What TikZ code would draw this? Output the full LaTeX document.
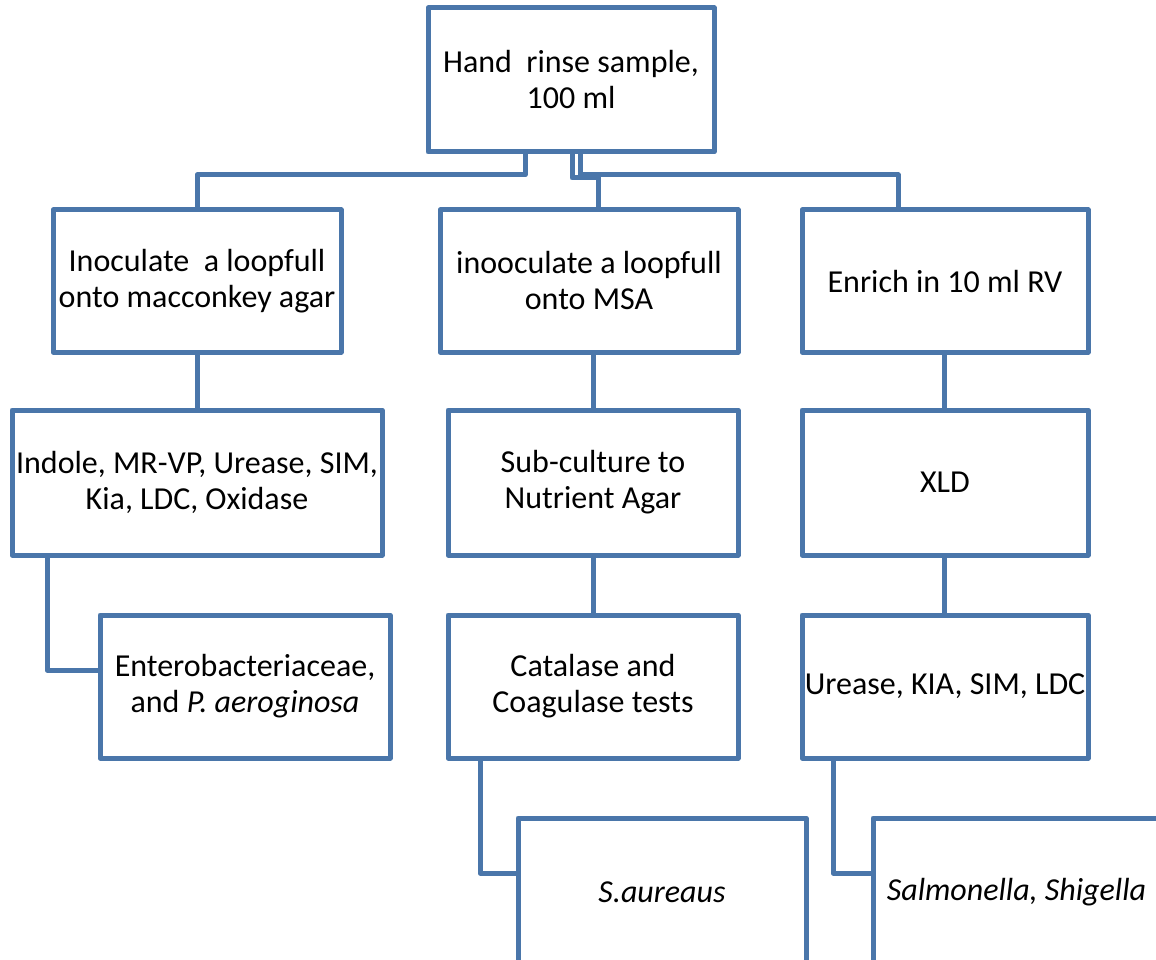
\documentclass[tikz,border=0pt]{standalone}
\usepackage{fontspec}
\setmainfont{Carlito}
\definecolor{boxblue}{RGB}{74,118,170}
\tikzset{
  flowbox/.style={draw=boxblue, line width=5pt, line join=round, fill=white, inner sep=0pt, align=center,
    font=\fontsize{32}{36}\selectfont},
  conn/.style={draw=boxblue, line width=5pt, line join=round}
}
\begin{document}
\begin{tikzpicture}[x=1pt,y=-1pt]
\useasboundingbox (0,0) rectangle (1156,960);
\clip (0,0) rectangle (1156,960);
\node[flowbox, minimum width=286pt, minimum height=144pt] (top) at (571,80) {Hand\ \ rinse sample,\\100 ml};
\node[flowbox, minimum width=288pt, minimum height=142pt] (A) at (197,281) {Inoculate\ \ a loopfull\\onto macconkey agar};
\node[flowbox, minimum width=298pt, minimum height=142pt] (B) at (589,281) {inooculate a loopfull\\onto MSA};
\node[flowbox, minimum width=286pt, minimum height=142pt] (C) at (945,281) {Enrich in 10 ml RV};
\node[flowbox, minimum width=370pt, minimum height=145pt] (D) at (197,482.5) {Indole, MR-VP, Urease, SIM,\\Kia, LDC, Oxidase};
\node[flowbox, minimum width=290pt, minimum height=145pt] (E) at (593,482.5) {Sub-culture to\\Nutrient Agar};
\node[flowbox, minimum width=286pt, minimum height=145pt] (F) at (945,482.5) {XLD};
\node[flowbox, minimum width=290pt, minimum height=143pt] (G) at (245,686.5) {Enterobacteriaceae,\\and \textit{P. aeroginosa}};
\node[flowbox, minimum width=290pt, minimum height=143pt] (H) at (593,686.5) {Catalase and\\Coagulase tests};
\node[flowbox, minimum width=286pt, minimum height=143pt] (I) at (945,686.5) {Urease, KIA, SIM, LDC};
\node[flowbox, minimum width=288pt, minimum height=148pt] (J) at (662,892) {\textit{S.aureaus}};
\node[flowbox, minimum width=287pt, minimum height=148pt] (K) at (1016.5,892) {\textit{Salmonella, Shigella}};
% connectors
\draw[conn] (top.south -| 525,0) -- (525,175) -| (A.north);
\draw[conn] (top.south -| 572,0) -- (572,178) -| (B.north -| 598,0);
\draw[conn] (top.south -| 580,0) -- (580,175) -| (C.north -| 898,0);
\draw[conn] (A.south) -- (A.south |- D.north);
\draw[conn] (E.north |- B.south) -- (E.north);
\draw[conn] (C.south -| 944,0) -- (F.north -| 944,0);
\draw[conn] (D.south -| 47,0) |- (G.west |- 0,670);
\draw[conn] (E.south) -- (H.north);
\draw[conn] (F.south -| 944,0) -- (I.north -| 944,0);
\draw[conn] (H.south -| 480,0) |- (J.west |- 0,873);
\draw[conn] (I.south -| 833,0) |- (K.west |- 0,873);
\end{tikzpicture}
\end{document}
